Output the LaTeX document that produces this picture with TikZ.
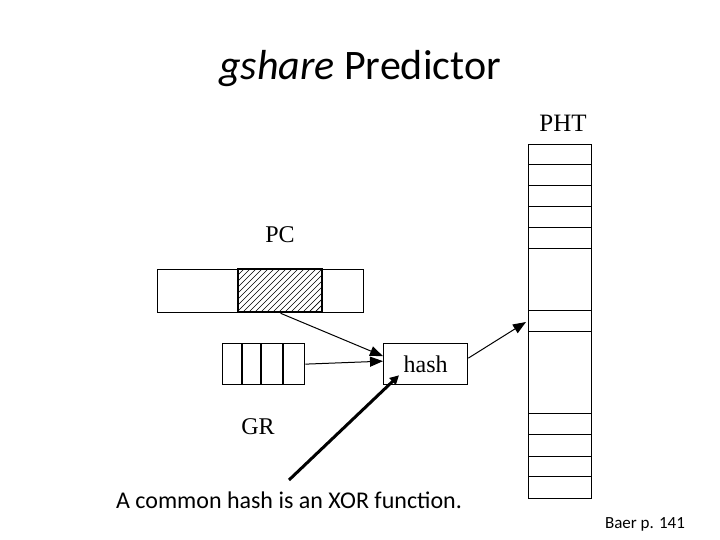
\documentclass[tikz,border=0pt]{standalone}
\usepackage{fontspec}
\setmainfont{Liberation Serif}
\newfontfamily\calibri{Carlito}
\usetikzlibrary{arrows.meta}
\begin{document}
\begin{tikzpicture}[x=1pt,y=-1pt,
  box/.style={draw, line width=1.3pt, inner sep=0pt, anchor=north west},
  lbl/.style={font=\fontsize{24}{26}\selectfont, inner sep=0pt, anchor=base},
  arr/.style={line width=1pt, -{Triangle[length=13pt,width=10pt]}},
  bigarr/.style={line width=3pt, -{Triangle[length=9pt,width=9pt]}},
  rowline/.style={line width=1pt}]
\useasboundingbox (0,0) rectangle (720,540);
% title
\node[font=\calibri\fontsize{42}{46}\selectfont, inner sep=0pt, anchor=base] (title) at (360,80) {\textit{gshare} Predictor};
% PC register
\node[lbl] (pclbl) at (280,243) {PC};
\node[box, minimum width=206pt, minimum height=43pt] (pc) at (157,269) {};
\node[box, minimum width=84pt, minimum height=43pt] (pch) at (238,269) {};
\begin{scope}
  \clip (238,269) rectangle (322,312);
  \foreach \i in {0,...,22} \draw[line width=0.7pt] (232+\i*6-43,312) -- ++(43,-43);
\end{scope}
\draw[line width=1.3pt] (238,269) rectangle (322,312);
% GR
\node[box, minimum width=82pt, minimum height=41pt] (gr) at (222,343) {};
\foreach \xx in {242,261,283} \draw[line width=1.3pt] (\xx,343) -- (\xx,384);
\node[lbl] (grlbl) at (258,434) {GR};
% hash
\node[box, minimum width=84pt, minimum height=41pt, font=\fontsize{24}{26}\selectfont] (hash) at (383,343) {hash};
% PHT
\node[lbl, font=\fontsize{25}{27}\selectfont] (phtlbl) at (563,132) {PHT};
\node[box, minimum width=63pt, minimum height=354pt] (pht) at (528,144) {};
\foreach \yy in {165,186,207,228,248,310,331,413,434,456,476} \draw[rowline] (528,\yy) -- (591,\yy);
% connectors
\draw[arr] (pch.south) -- ([yshift=8pt]hash.west);
\draw[arr] (gr.east) -- ([yshift=3pt]hash.west);
\draw[arr] ([yshift=6pt]hash.east) -- (526,322) coordinate (phtin);
\coordinate (note) at (289,480);
\draw[bigarr] (note) -- ([xshift=16pt,yshift=10pt]hash.south west);
% captions
\node[font=\calibri\fontsize{24}{28}\selectfont, inner sep=0pt, anchor=base] (cap) at (289,508) {A common hash is an XOR function.};
\node[font=\calibri\fontsize{17}{19}\selectfont, inner sep=0pt, anchor=base] (baer) at (645,528) {Baer p. 141};
\end{tikzpicture}
\end{document}
